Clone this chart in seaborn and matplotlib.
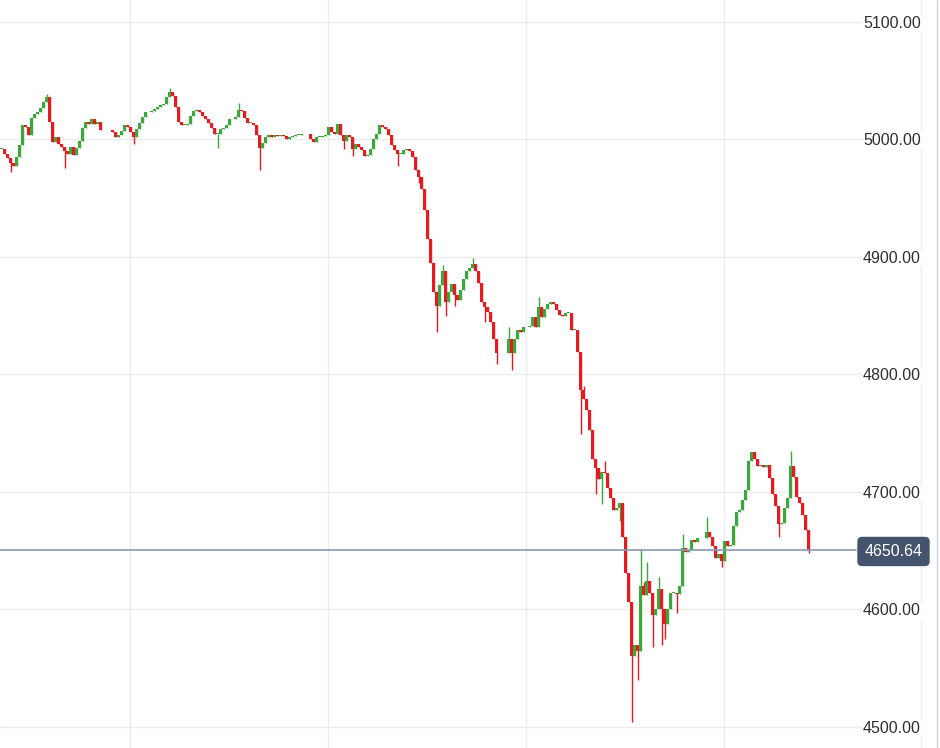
import numpy as np
import pandas as pd
import matplotlib
matplotlib.use('Agg')
import matplotlib.pyplot as plt
import matplotlib.transforms as mtransforms
from matplotlib.lines import Line2D
import seaborn as sns

# closing prices per trading session
session_1 = [4992, 4988, 4984, 4980, 4977, 4985, 4995, 5012, 5011, 5004,
             5018, 5022, 5023, 5027, 5032, 5036, 5015, 4998, 5002, 4996,
             4994, 4990, 4988, 4994, 4987, 4993, 4999, 5010, 5015, 5013,
             5017, 5013, 5015, 5008]
session_2 = [5006, 5002, 5004, 5007, 5012, 5011, 5006, 5002, 5009, 5014,
             5019, 5023, 5023, 5024, 5026, 5028, 5029, 5030, 5036, 5040,
             5037, 5028, 5015, 5012, 5012, 5013, 5020, 5024, 5025, 5023,
             5020, 5017, 5014, 5010, 5005, 5005, 5009, 5010, 5012, 5017,
             5017, 5019, 5025, 5024, 5018, 5014, 5014, 5012, 5004, 4993,
             4997, 5002, 5004, 5002, 5004, 5003, 5004, 5003, 5000, 5002,
             5003, 5004, 5004, 5005]
session_3 = [5000, 4998, 5002, 5002, 5003, 5004, 5011, 5006, 5005, 5013,
             5004, 4999, 5004, 5002, 4992, 4996, 4994, 4991, 4986, 4987,
             4992, 5000, 5005, 5012, 5011, 5009, 5004, 4995, 4991, 4988,
             4988, 4991, 4992, 4990, 4985, 4974, 4968, 4958, 4940, 4915,
             4895, 4870, 4858, 4876, 4888, 4862, 4870, 4877, 4868, 4863,
             4872, 4881, 4888, 4891, 4894, 4888, 4878, 4862, 4857, 4853,
             4845, 4830, 4818]
session_4 = [4830, 4818, 4830, 4838, 4836, 4840, 4840, 4841, 4849, 4840,
             4857, 4849, 4856, 4860, 4862, 4860, 4855, 4851, 4850, 4852,
             4852, 4838, 4838, 4819, 4787, 4779, 4770, 4753, 4728, 4720,
             4711, 4717, 4716, 4703, 4695, 4685, 4686, 4691, 4662, 4631,
             4606, 4560, 4570, 4565, 4620, 4612, 4624, 4614, 4595, 4600,
             4617, 4600, 4588, 4600, 4614, 4614, 4613, 4620, 4652, 4649,
             4651, 4659, 4657, 4661]
session_5 = [4666, 4662, 4654, 4644, 4647, 4641, 4658, 4654, 4655, 4671,
             4683, 4685, 4693, 4702, 4726, 4734, 4728, 4722, 4723, 4721,
             4723, 4712, 4698, 4688, 4673, 4674, 4686, 4695, 4722, 4713,
             4696, 4691, 4680, 4668, 4650.64]
sessions = [session_1, session_2, session_3, session_4, session_5]
session_gaps = [3, 2, 3, 2]  # empty slots between sessions

# long wicks (slot index -> price)
high_spikes = {15: 5039, 56: 5044, 79: 5031, 147: 4893, 157: 4899, 169: 4840,
               179: 4866, 194: 4790, 201: 4726, 213: 4651, 214: 4623,
               215: 4640, 219: 4628, 227: 4664, 235: 4679, 263: 4735}
low_spikes = {3: 4972, 21: 4976, 44: 4996, 72: 4993, 86: 4974, 114: 4992,
              117: 4986, 132: 4977, 139: 4963, 145: 4836, 148: 4850,
              151: 4858, 161: 4845, 165: 4809, 170: 4804, 193: 4749,
              198: 4698, 200: 4690, 206: 4675, 210: 4504, 212: 4540,
              217: 4568, 220: 4570, 221: 4575, 225: 4597, 240: 4636,
              259: 4662, 269: 4648}

price_levels = [4500, 4600, 4700, 4800, 4900, 5000, 5100]
day_lines = [42.83, 108.83, 174.83, 240.83]
last_price = 4650.64

# build OHLC frame
closes = []
for k, s in enumerate(sessions):
    closes += s
    if k < len(session_gaps):
        closes += [np.nan] * session_gaps[k]
df = pd.DataFrame({'close': closes})
df['slot'] = np.arange(len(df))
df['open'] = df['close'].ffill().shift(1)
df.loc[0, 'open'] = df.loc[0, 'close']
df['high'] = df[['open', 'close']].max(axis=1)
df['low'] = df[['open', 'close']].min(axis=1)
for k, v in high_spikes.items():
    df.loc[k, 'high'] = max(df.loc[k, 'high'], v)
for k, v in low_spikes.items():
    df.loc[k, 'low'] = min(df.loc[k, 'low'], v)
df = df.dropna(subset=['close']).reset_index(drop=True)

green = '#3aa83a'
red = '#e8191f'
df['color'] = np.where(df['close'] >= df['open'], green, red)
body = df['close'] - df['open']
body = np.where(np.abs(body) < 0.8, np.where(body < 0, -0.8, 0.8), body)

sns.set_theme(style='white')
plt.rcParams['font.family'] = ['Liberation Sans', 'DejaVu Sans']

fig = plt.figure(figsize=(9.4, 7.48), dpi=100)
ax = fig.add_axes([0, 0, 921 / 940, 1])

# grid
for lv in price_levels:
    ax.axhline(lv, color='#ebebeb', lw=1, zorder=0)
for d in day_lines:
    ax.axvline(d, color='#e9ebef', lw=1, zorder=0)

# candles
ax.vlines(df['slot'], df['low'], df['high'], colors=df['color'], lw=1, zorder=2)
ax.bar(df['slot'], body, bottom=df['open'], width=0.75, color=df['color'],
       linewidth=0, zorder=3)

ax.set_xlim(-0.5, 306.5)
ax.set_ylim(4482.1, 5118.7)
ax.set_xticks([])
ax.set_yticks([])
for name, sp in ax.spines.items():
    sp.set_visible(name == 'right')
ax.spines['right'].set_color('#ececec')
ax.spines['right'].set_linewidth(1)

# last price line and badge
ax.axhline(last_price, xmax=856 / 921, color='#8a99b0', lw=1.2, zorder=4)
trans = mtransforms.blended_transform_factory(ax.transAxes, ax.transData)
for lv in price_levels:
    ax.text(863 / 921, lv, f'{lv:.2f}', transform=trans, ha='left',
            va='center_baseline', fontsize=11.5, color='#2e2e2e', zorder=5,
            bbox=dict(fc='white', ec='none', pad=1))
ax.text(893.5 / 921, last_price, f'{last_price:.2f}', transform=trans,
        ha='center', va='center_baseline', fontsize=11.5, color='white',
        zorder=6, clip_on=False,
        bbox=dict(boxstyle='round,pad=0.45,rounding_size=0.3', fc='#44546f', ec='none'))

# outer panel edge
fig.add_artist(Line2D([937 / 940] * 2, [0, 1], color='#cdd6e0', lw=1))

fig.savefig('out.png', dpi=100)
plt.close()
